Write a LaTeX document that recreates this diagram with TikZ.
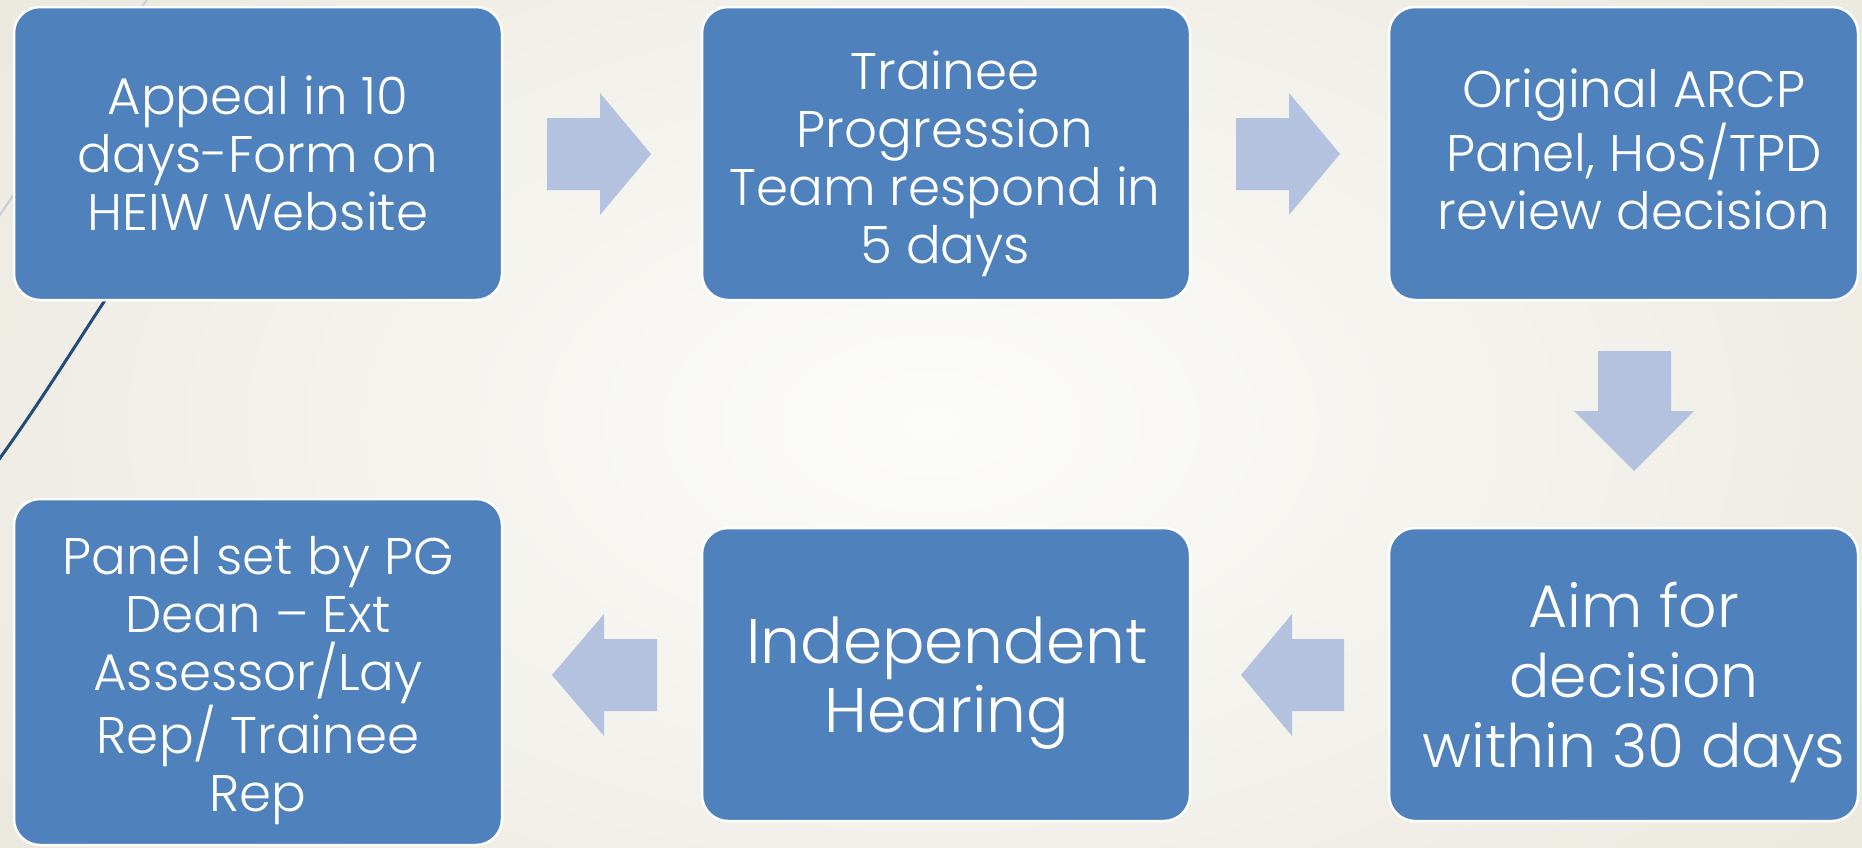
\documentclass[tikz,border=0pt]{standalone}
\usepackage{fontspec}
\setmainfont{Poppins}[UprightFont={* Light}]
\definecolor{boxblue}{HTML}{4F81BD}
\definecolor{arrowblue}{HTML}{B3C2DE}
\definecolor{bgin}{HTML}{FCFCFA}
\definecolor{bgout}{HTML}{ECE9E0}
\definecolor{curveblue}{HTML}{234B78}
\definecolor{faintline}{HTML}{C8CED6}
\tikzset{
  stepbox/.style={fill=boxblue, draw=white, line width=2.5pt, rounded corners=26pt},
  boxtext/.style={text=white, align=center, inner sep=0pt, anchor=base},
  smalltext/.style={font=\fontsize{51.5}{58}\selectfont},
  blockarrow/.style={fill=arrowblue},
}
\begin{document}
\begin{tikzpicture}[x=1pt,y=-1pt]
\useasboundingbox (0,0) rectangle (1862,847);
\shade[inner color=bgin, outer color=bgout] (-200,-250) rectangle (2062,1097);
% decorative lines
\draw[faintline, line width=2pt] (150,-5) -- (-5,222);
\draw[curveblue, line width=3pt] (115,285) .. controls (72,350) and (42,400) .. (-5,465);
% boxes
\draw[stepbox] (14,7) rectangle (502,300);
\draw[stepbox] (702,7) rectangle (1190,300);
\draw[stepbox] (1389,7) rectangle (1858,300);
\draw[stepbox] (14,499) rectangle (502,845);
\draw[stepbox] (702,528) rectangle (1190,821);
\draw[stepbox] (1389,528) rectangle (1858,821);
% texts (anchored at the last baseline)
\node[boxtext, smalltext] (b1) at (258,230) {Appeal in 10\\days-Form on\\HEIW Website};
\node[boxtext, smalltext] (b2) at (945,263) {Trainee\\Progression\\Team respond in\\5 days};
\node[boxtext, smalltext] (b3) at (1634,229) {Original ARCP\\Panel, HoS/TPD\\review decision};
\node[boxtext, smalltext] (b4) at (258,811) {Panel set by PG\\Dean -- Ext\\Assessor/Lay\\Rep/ Trainee\\Rep};
\node[boxtext, font=\fontsize{63}{69}\selectfont] (b5) at (947,732) {Independent\\Hearing};
\node[boxtext, font=\fontsize{60}{70}\selectfont] (b6) at (1634,767) {Aim for\\decision\\within 30 days};
% block arrows
\fill[blockarrow] (547,118) -- (600,118) -- (600,93) -- (651,154) -- (600,215) -- (600,190) -- (547,190) -- cycle;
\fill[blockarrow] (1236,118) -- (1289,118) -- (1289,93) -- (1340,154) -- (1289,215) -- (1289,190) -- (1236,190) -- cycle;
\fill[blockarrow] (1598,351) -- (1671,351) -- (1671,411) -- (1694,411) -- (1634,471) -- (1574,411) -- (1598,411) -- cycle;
\fill[blockarrow] (1344,639) -- (1292,639) -- (1292,614) -- (1241,675) -- (1292,736) -- (1292,711) -- (1344,711) -- cycle;
\fill[blockarrow] (657,639) -- (604,639) -- (604,614) -- (552,675) -- (604,736) -- (604,711) -- (657,711) -- cycle;
\end{tikzpicture}
\end{document}
